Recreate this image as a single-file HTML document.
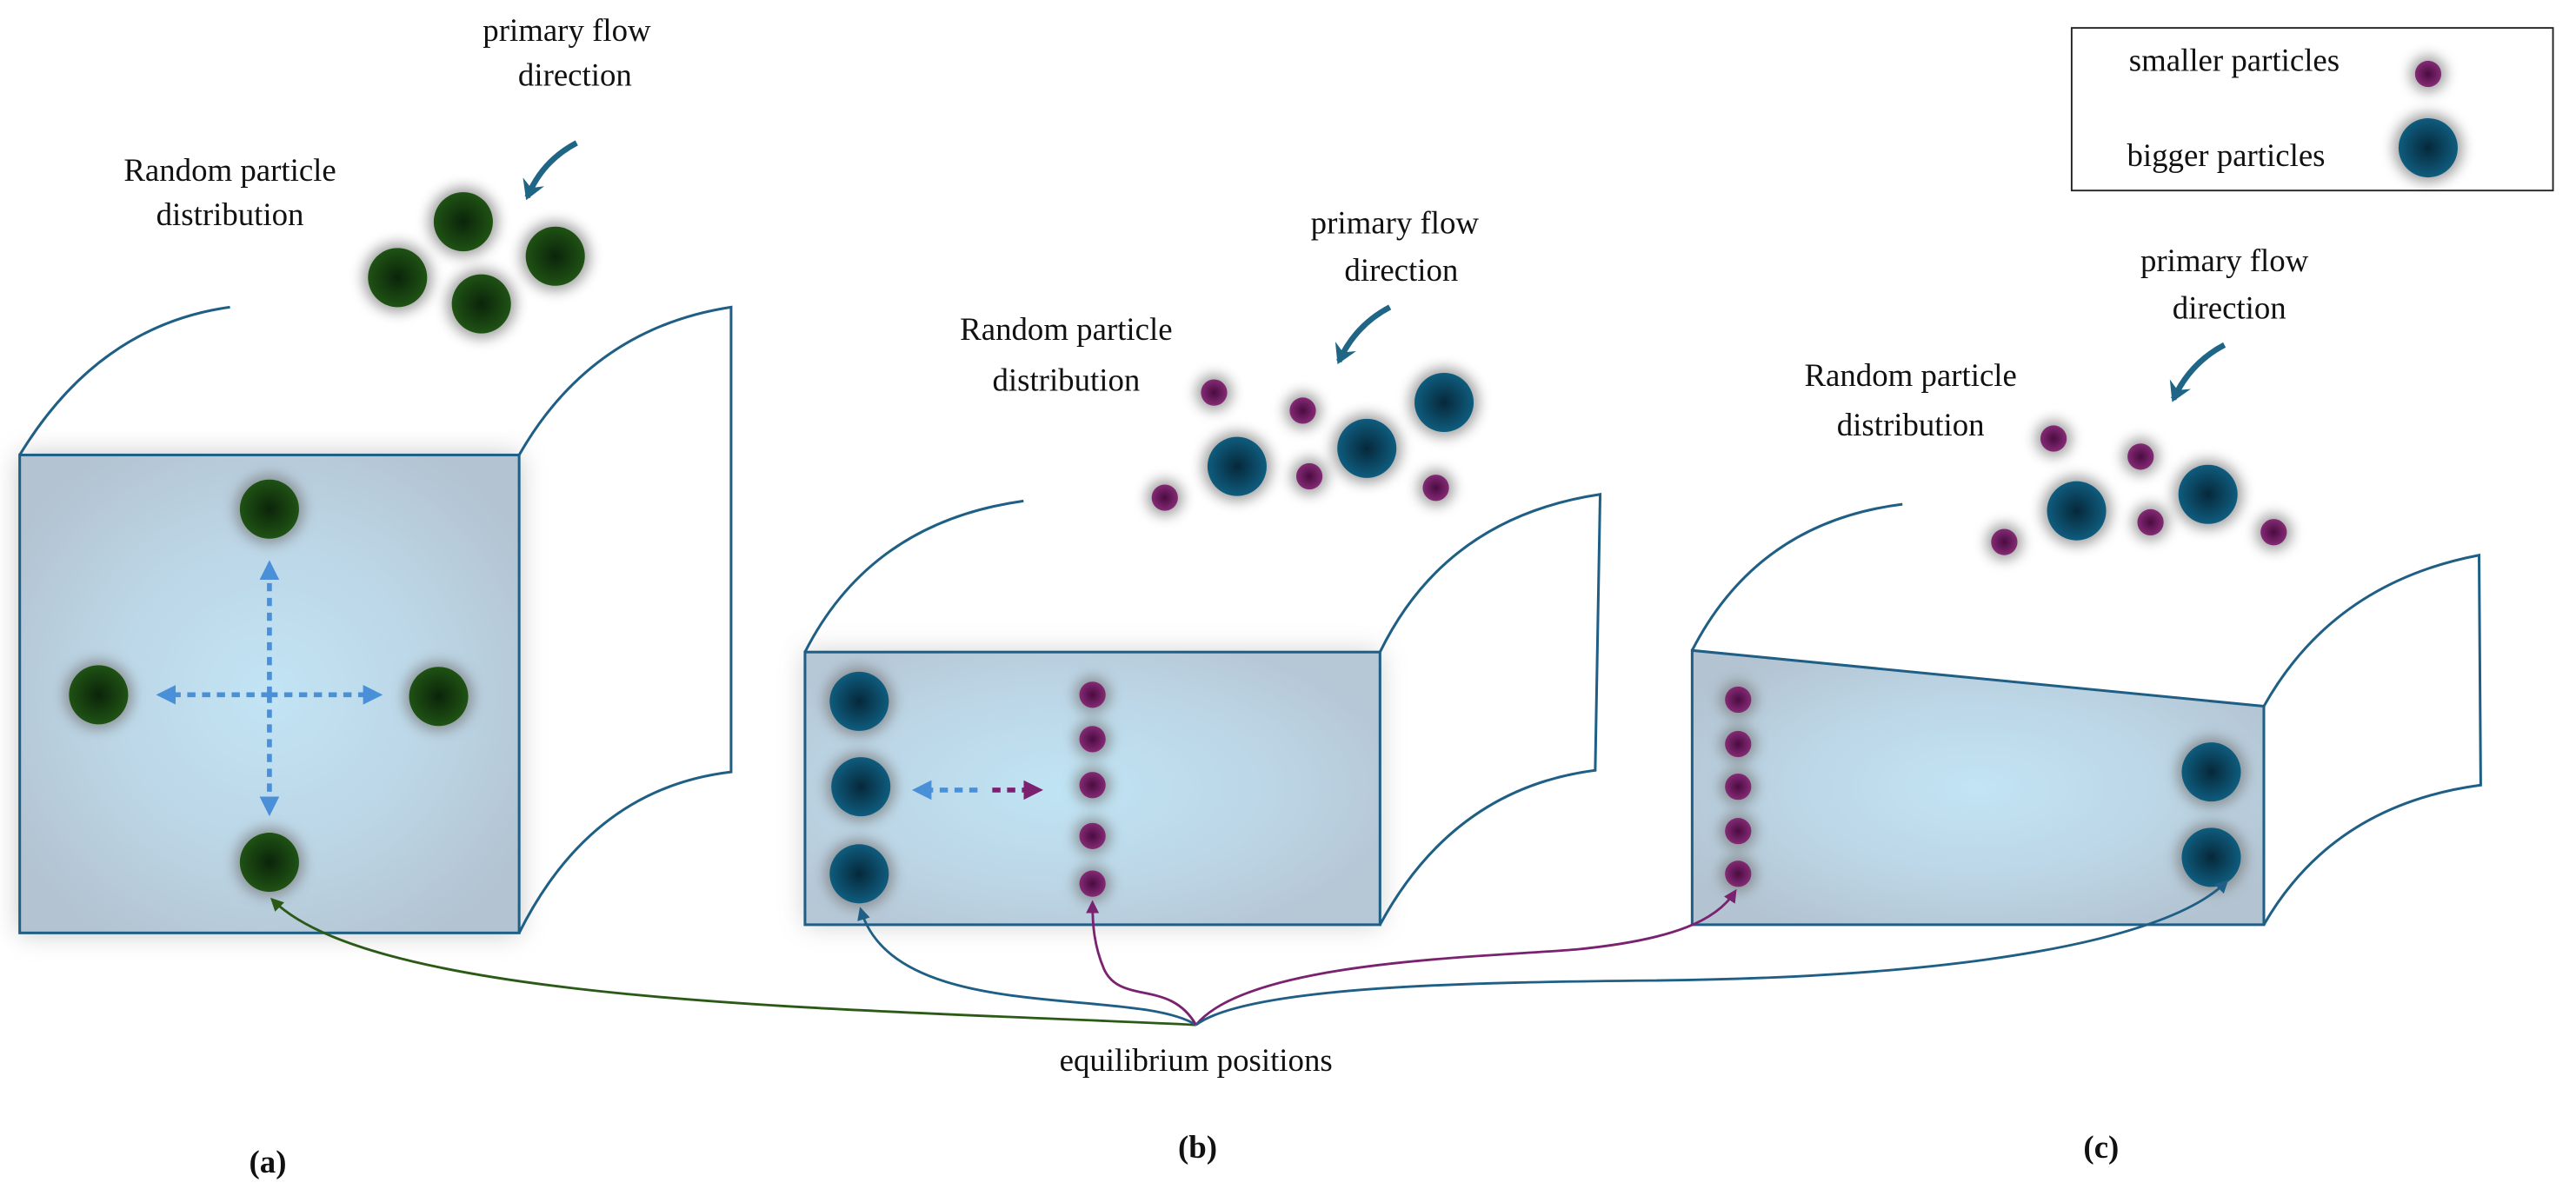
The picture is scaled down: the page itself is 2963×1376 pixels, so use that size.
<!DOCTYPE html>
<html><head><meta charset="utf-8"><style>
html,body{margin:0;padding:0;background:#fff;}
svg{display:block;}
text{font-family:"Liberation Serif",serif;fill:#111;}
</style></head><body>
<svg width="2963" height="1376" viewBox="0 0 1568 728.17" preserveAspectRatio="none" xmlns="http://www.w3.org/2000/svg">
<defs>
<radialGradient id="gA" cx="0.5" cy="0.5" r="0.6">
<stop offset="0" stop-color="#c2e4f4"/><stop offset="0.55" stop-color="#bcd6e6"/><stop offset="1" stop-color="#b3c3d1"/></radialGradient>
<radialGradient id="gB" cx="0.45" cy="0.5" r="0.6">
<stop offset="0" stop-color="#c0e4f4"/><stop offset="0.6" stop-color="#bcd6e6"/><stop offset="1" stop-color="#b6c7d6"/></radialGradient>
<radialGradient id="pg" cx="0.5" cy="0.5" r="0.5"><stop offset="0" stop-color="#0b240a"/><stop offset="1" stop-color="#1f5214"/></radialGradient>
<radialGradient id="pb" cx="0.5" cy="0.5" r="0.5"><stop offset="0" stop-color="#06283a"/><stop offset="1" stop-color="#0f5c7e"/></radialGradient>
<radialGradient id="pm" cx="0.5" cy="0.5" r="0.5"><stop offset="0" stop-color="#4a0c40"/><stop offset="1" stop-color="#842a75"/></radialGradient>
<filter id="glow" x="-60%" y="-60%" width="220%" height="220%"><feGaussianBlur stdDeviation="4"/></filter>
<filter id="shadow" x="-10%" y="-10%" width="120%" height="120%"><feGaussianBlur stdDeviation="8"/></filter>
<marker id="ahB" markerWidth="8" markerHeight="8" refX="6" refY="4" orient="auto" markerUnits="userSpaceOnUse"><path d="M0,0 L8,4 L0,8 Z" fill="#1f5f85"/></marker>
<marker id="ahG" markerWidth="8" markerHeight="8" refX="6" refY="4" orient="auto" markerUnits="userSpaceOnUse"><path d="M0,0 L8,4 L0,8 Z" fill="#2b5a17"/></marker>
<marker id="ahM" markerWidth="8" markerHeight="8" refX="6" refY="4" orient="auto" markerUnits="userSpaceOnUse"><path d="M0,0 L8,4 L0,8 Z" fill="#7a2270"/></marker>
<marker id="ahL" markerWidth="12" markerHeight="12" refX="9" refY="6" orient="auto" markerUnits="userSpaceOnUse"><path d="M0,0 L12,6 L0,12 Z" fill="#4a90d9"/></marker>
<marker id="ahP" markerWidth="12" markerHeight="12" refX="9" refY="6" orient="auto" markerUnits="userSpaceOnUse"><path d="M0,0 L12,6 L0,12 Z" fill="#7a2270"/></marker>
<marker id="ahF" markerWidth="14" markerHeight="14" refX="10" refY="7" orient="auto" markerUnits="userSpaceOnUse"><path d="M0,0 L12,7 L0,14 L4,7 Z" fill="#1f6585"/></marker>
</defs>

<g fill="none" stroke="#1f5f85" stroke-width="1.6">
<!-- panel a outline -->
<rect x="12" y="277" width="304" height="291" fill="#888" stroke="none" filter="url(#shadow)" opacity="0.5"/>
<rect x="12" y="277" width="304" height="291" fill="url(#gA)"/>
<path d="M12,277 Q60,198 140,187"/>
<path d="M316,277 Q360,200 445,187 L445,470 Q360,480 316,568"/>
<!-- panel b -->
<rect x="490" y="397" width="350" height="166" fill="#888" stroke="none" filter="url(#shadow)" opacity="0.4"/>
<rect x="490" y="397" width="350" height="166" fill="url(#gB)"/>
<path d="M490,397 Q530,318 623,305"/>
<path d="M840,397 Q880,315 974,301 L971,469 Q885,480 840,563"/>
<!-- panel c -->
<path d="M1030,396 L1378,430 L1378,563 L1030,563 Z" fill="url(#gA)"/>
<path d="M1030,396 Q1070,318 1158,307"/>
<path d="M1378,430 Q1420,355 1509,338 L1510,478 Q1420,490 1378,563"/>
</g>

<!-- particles helper: glow + body -->
<g id="particles">
<!-- green -->
<g fill="#777" filter="url(#glow)" opacity="0.7">
<circle cx="282" cy="135" r="21"/><circle cx="242" cy="169" r="21"/><circle cx="338" cy="156" r="21"/><circle cx="293" cy="185" r="21"/>
<circle cx="164" cy="310" r="21"/><circle cx="60" cy="423" r="21"/><circle cx="267" cy="424" r="21"/><circle cx="164" cy="525" r="21"/>
<circle cx="523" cy="427" r="21"/><circle cx="524" cy="479" r="21"/><circle cx="523" cy="532" r="21"/>
<circle cx="753" cy="284" r="21"/><circle cx="832" cy="273" r="21"/><circle cx="879" cy="245" r="21"/>
<circle cx="1264" cy="311" r="21"/><circle cx="1344" cy="301" r="21"/><circle cx="1346" cy="470" r="21"/><circle cx="1346" cy="522" r="21"/>
<circle cx="1478" cy="90" r="21"/>
<circle cx="739" cy="239" r="11"/><circle cx="793" cy="250" r="11"/><circle cx="709" cy="303" r="11"/><circle cx="797" cy="290" r="11"/><circle cx="874" cy="297" r="11"/>
<circle cx="665" cy="423" r="11"/><circle cx="665" cy="450" r="11"/><circle cx="665" cy="478" r="11"/><circle cx="665" cy="509" r="11"/><circle cx="665" cy="538" r="11"/>
<circle cx="1250" cy="267" r="11"/><circle cx="1303" cy="278" r="11"/><circle cx="1220" cy="330" r="11"/><circle cx="1309" cy="318" r="11"/><circle cx="1384" cy="324" r="11"/>
<circle cx="1058" cy="426" r="11"/><circle cx="1058" cy="453" r="11"/><circle cx="1058" cy="479" r="11"/><circle cx="1058" cy="506" r="11"/><circle cx="1058" cy="532" r="11"/>
<circle cx="1478" cy="45" r="11"/>
</g>
<g fill="url(#pg)">
<circle cx="282" cy="135" r="18"/><circle cx="242" cy="169" r="18"/><circle cx="338" cy="156" r="18"/><circle cx="293" cy="185" r="18"/>
<circle cx="164" cy="310" r="18"/><circle cx="60" cy="423" r="18"/><circle cx="267" cy="424" r="18"/><circle cx="164" cy="525" r="18"/>
</g>
<g fill="url(#pb)">
<circle cx="523" cy="427" r="18"/><circle cx="524" cy="479" r="18"/><circle cx="523" cy="532" r="18"/>
<circle cx="753" cy="284" r="18"/><circle cx="832" cy="273" r="18"/><circle cx="879" cy="245" r="18"/>
<circle cx="1264" cy="311" r="18"/><circle cx="1344" cy="301" r="18"/><circle cx="1346" cy="470" r="18"/><circle cx="1346" cy="522" r="18"/>
<circle cx="1478" cy="90" r="18"/>
</g>
<g fill="url(#pm)">
<circle cx="739" cy="239" r="8"/><circle cx="793" cy="250" r="8"/><circle cx="709" cy="303" r="8"/><circle cx="797" cy="290" r="8"/><circle cx="874" cy="297" r="8"/>
<circle cx="665" cy="423" r="8"/><circle cx="665" cy="450" r="8"/><circle cx="665" cy="478" r="8"/><circle cx="665" cy="509" r="8"/><circle cx="665" cy="538" r="8"/>
<circle cx="1250" cy="267" r="8"/><circle cx="1303" cy="278" r="8"/><circle cx="1220" cy="330" r="8"/><circle cx="1309" cy="318" r="8"/><circle cx="1384" cy="324" r="8"/>
<circle cx="1058" cy="426" r="8"/><circle cx="1058" cy="453" r="8"/><circle cx="1058" cy="479" r="8"/><circle cx="1058" cy="506" r="8"/><circle cx="1058" cy="532" r="8"/>
<circle cx="1478" cy="45" r="8"/>
</g>
</g>

<!-- dashed arrows -->
<g fill="none" stroke-width="3" stroke-dasharray="5,4">
<path d="M164,423 L98,423" stroke="#4a90d9" marker-end="url(#ahL)"/>
<path d="M164,423 L230,423" stroke="#4a90d9" marker-end="url(#ahL)"/>
<path d="M164,423 L164,344" stroke="#4a90d9" marker-end="url(#ahL)"/>
<path d="M164,423 L164,494" stroke="#4a90d9" marker-end="url(#ahL)"/>
<path d="M595,481 L558,481" stroke="#4a90d9" marker-end="url(#ahL)"/>
<path d="M604,481 L632,481" stroke="#7a2270" marker-end="url(#ahP)"/>
</g>

<!-- flow arrows -->
<g fill="none" stroke="#1f6585" stroke-width="3.5">
<path d="M351,87 Q330,98 321,120" marker-end="url(#ahF)"/>
<path d="M846,187 Q825,198 815,220" marker-end="url(#ahF)"/>
<path d="M1354,210 Q1333,221 1323,243" marker-end="url(#ahF)"/>
</g>

<!-- connectors -->
<g fill="none" stroke-width="1.5">
<path d="M728,624 C520,614 230,612 166,548" stroke="#2b5a17" marker-end="url(#ahG)"/>
<path d="M728,624 C690,600 545,625 524,554" stroke="#1f5f85" marker-end="url(#ahB)"/>
<path d="M728,624 C712,596 682,612 672,590 C666,576 665,563 665,550" stroke="#7a2270" marker-end="url(#ahM)"/>
<path d="M728,624 C760,585 900,583 960,578 C1020,572 1045,560 1056,543" stroke="#7a2270" marker-end="url(#ahM)"/>
<path d="M728,624 C760,600 900,598 1005,597 C1200,595 1320,572 1355,537" stroke="#1f5f85" marker-end="url(#ahB)"/>
</g>

<!-- legend -->
<rect x="1261" y="17" width="293" height="99" fill="none" stroke="#222" stroke-width="1"/>

<!-- text -->
<g font-size="19.5" text-anchor="middle">
<text x="140" y="110">Random particle</text><text x="140" y="137">distribution</text>
<text x="345" y="25">primary flow</text><text x="350" y="52">direction</text>
<text x="649" y="207">Random particle</text><text x="649" y="238">distribution</text>
<text x="849" y="142">primary flow</text><text x="853" y="171">direction</text>
<text x="1163" y="235">Random particle</text><text x="1163" y="265">distribution</text>
<text x="1354" y="165">primary flow</text><text x="1357" y="194">direction</text>
<text x="728" y="652">equilibrium positions</text>
<text x="1360" y="43">smaller particles</text><text x="1355" y="101">bigger particles</text>
<text x="163" y="714" font-weight="bold">(a)</text>
<text x="729" y="705" font-weight="bold">(b)</text>
<text x="1279" y="705" font-weight="bold">(c)</text>
</g>
</svg>
</body></html>
